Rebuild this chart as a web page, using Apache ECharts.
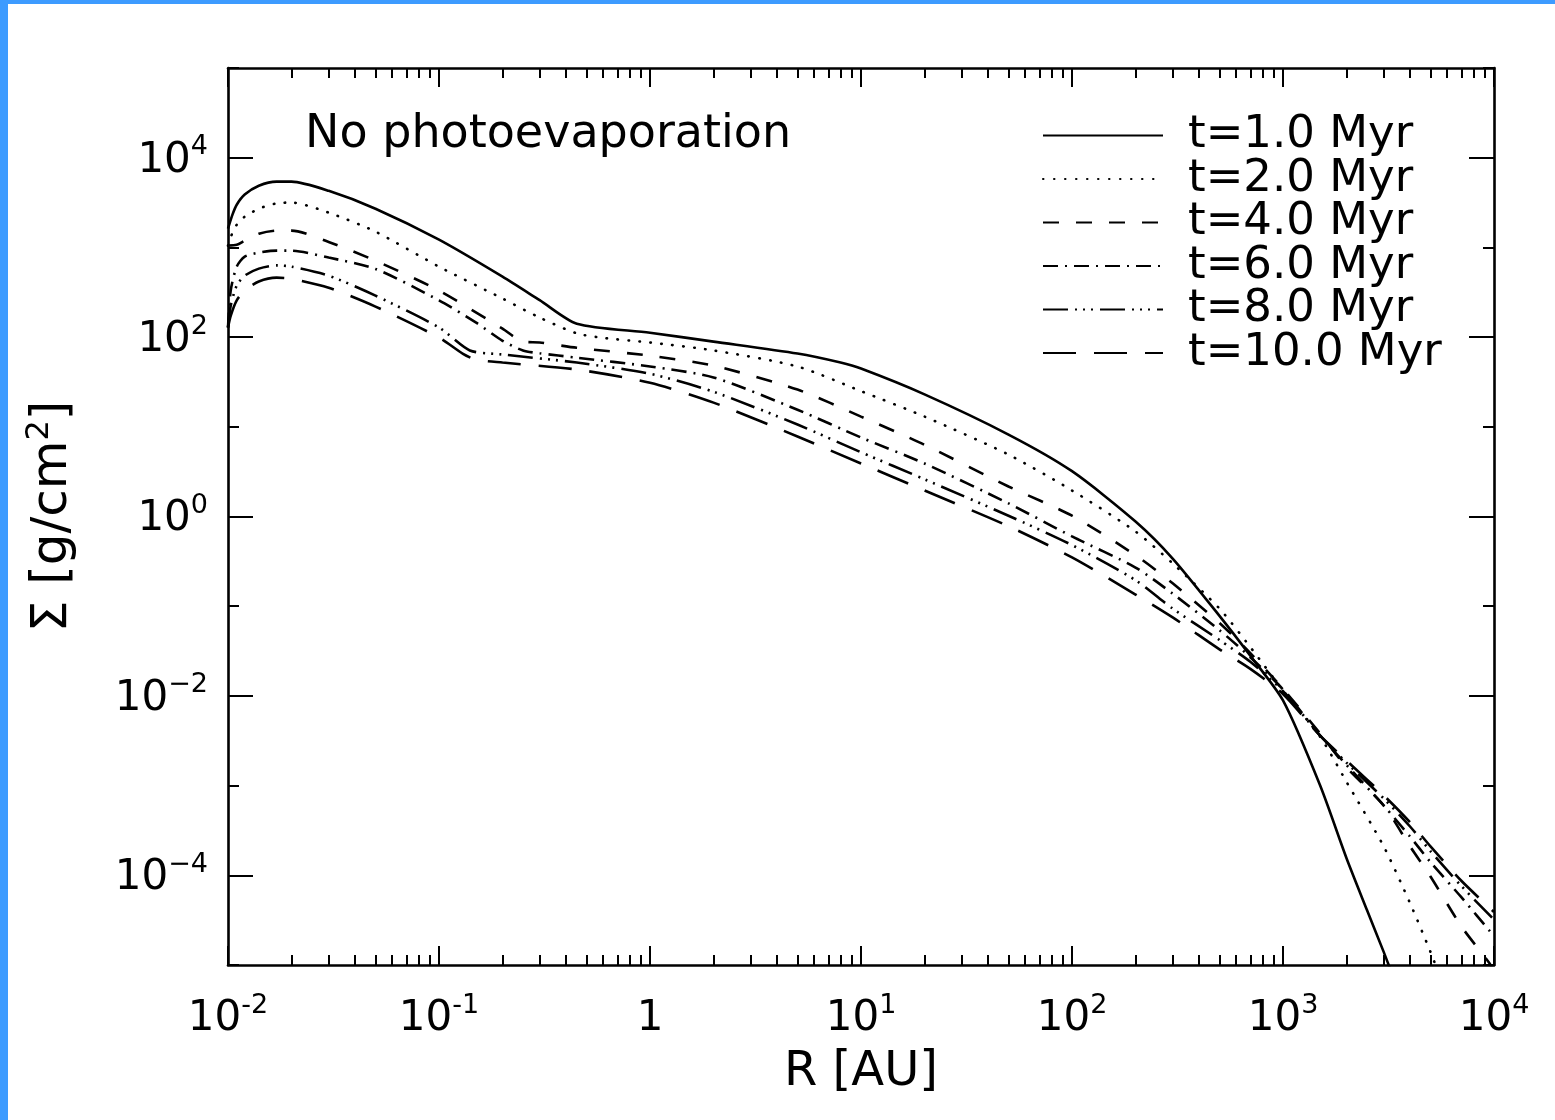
<!DOCTYPE html>
<html><head><meta charset="utf-8">
<script src="https://cdn.jsdelivr.net/npm/echarts@6/dist/echarts.min.js"></script>
<style>
html,body{margin:0;padding:0;background:#fff;}
#chart{position:absolute;left:0;top:0;width:1555px;height:1120px;}
#frame{position:absolute;left:0;top:0;width:1555px;height:1120px;box-sizing:border-box;border-left:8px solid #3d9bff;border-top:4px solid #3d9bff;pointer-events:none;}
</style></head><body>
<div id="chart"></div><div id="frame"></div>
<script>
// ---- data (R in AU, Sigma in g/cm^2) ----
const seriesNames = ['t=1.0 Myr', 't=2.0 Myr', 't=4.0 Myr', 't=6.0 Myr', 't=8.0 Myr', 't=10.0 Myr'];

const R_t1 = [0.01, 0.0105, 0.011, 0.012, 0.014, 0.017, 0.02, 0.03, 0.05, 0.1, 0.2, 0.3, 0.45, 1, 2, 5, 8, 10, 20, 50, 100, 200, 300, 500, 700, 1000, 1500, 2000, 2500, 3000, 3300];
const S_t1 = [1620, 2320, 2990, 3880, 4870, 5410, 5410, 4270, 2700, 1220, 472, 258, 141, 112, 89, 65.5, 52, 44.6, 23, 8.2, 3.2, 0.88, 0.34, 0.078, 0.028, 0.0089, 0.001, 1.55e-4, 4.1e-5, 1.4e-5, 7.8e-6];

const R_t2 = [0.01, 0.0105, 0.011, 0.012, 0.014, 0.017, 0.02, 0.03, 0.05, 0.1, 0.2, 0.3, 0.45, 0.6, 1, 2, 5, 10, 20, 50, 100, 200, 300, 500, 700, 1000, 1500, 2000, 3000, 4000, 5000, 5500];
const S_t2 = [1045, 1460, 1790, 2200, 2700, 3100, 3160, 2440, 1500, 610, 269, 165, 110, 98, 87, 71, 47, 25, 13, 4.9, 1.95, 0.68, 0.30, 0.094, 0.035, 0.0115, 0.0035, 0.0011, 2.1e-4, 4.9e-5, 1.4e-5, 7.8e-6];

const R_t4 = [0.01, 0.011, 0.012, 0.014, 0.017, 0.02, 0.03, 0.05, 0.1, 0.2, 0.25, 0.3, 0.45, 1, 2, 5, 10, 20, 50, 100, 200, 300, 500, 700, 1000, 1500, 2000, 3000, 4000, 5000, 7000, 9500, 10000];
const S_t4 = [1050, 1070, 1190, 1420, 1540, 1540, 1150, 710, 330, 124, 89, 87, 76, 62, 48, 26, 13, 6.3, 2.16, 1.02, 0.37, 0.18, 0.065, 0.030, 0.012, 0.0038, 0.0016, 6.0e-4, 2.1e-4, 9.7e-5, 2.7e-5, 1.05e-5, 8.3e-6];

const R_t6 = [0.01, 0.0103, 0.011, 0.012, 0.014, 0.017, 0.02, 0.03, 0.05, 0.1, 0.15, 0.2, 0.25, 0.3, 0.45, 1, 2, 5, 10, 20, 50, 100, 200, 300, 500, 700, 1000, 1500, 2000, 3000, 4000, 5000, 7000, 10000];
const S_t6 = [128, 330, 611, 790, 875, 920, 920, 770, 575, 257, 145, 91, 71, 66, 59, 47, 35.5, 15.5, 7.6, 3.9, 1.40, 0.60, 0.27, 0.138, 0.054, 0.027, 0.0118, 0.0036, 0.0017, 6.0e-4, 2.7e-4, 1.4e-4, 5.7e-5, 2.1e-5];

const R_t8 = [0.01, 0.0103, 0.011, 0.012, 0.014, 0.017, 0.02, 0.03, 0.05, 0.1, 0.14, 0.2, 0.45, 1, 2, 5, 10, 20, 50, 100, 200, 300, 500, 700, 1000, 1500, 2000, 3000, 4000, 5000, 7000, 10000];
const S_t8 = [128, 223, 375, 484, 580, 630, 610, 484, 290, 128, 71, 64, 52, 39, 24.6, 10.6, 5.2, 2.6, 1.02, 0.48, 0.195, 0.094, 0.042, 0.024, 0.0113, 0.0036, 0.0018, 7.2e-4, 3.5e-4, 1.86e-4, 7.6e-5, 3.2e-5];

const R_t10 = [0.01, 0.0103, 0.011, 0.012, 0.014, 0.017, 0.02, 0.03, 0.05, 0.1, 0.13, 0.15, 0.2, 0.45, 1, 2, 5, 10, 20, 50, 100, 200, 300, 500, 700, 1000, 1500, 2000, 3000, 4000, 5000, 7000, 10000];
const S_t10 = [128, 173, 257, 331, 417, 460, 447, 355, 219, 99, 65, 56, 52, 43.5, 31, 18.6, 7.8, 3.9, 1.95, 0.78, 0.35, 0.135, 0.075, 0.033, 0.020, 0.0105, 0.0036, 0.0019, 7.8e-4, 3.9e-4, 2.1e-4, 8.7e-5, 3.9e-5];

// ---- axes ticks ----
const xMajorTicks = [0.01, 0.1, 1, 10, 100, 1000, 10000];
const yMajorTicks = [1e-4, 1e-2, 1, 1e2, 1e4];
const yMinorTicks = [1e-5, 1e-3, 1e-1, 10, 1e3, 1e5];
const xMinorTicks = [];
for (let d = 0; d < xMajorTicks.length - 1; d++) {
  for (let m = 2; m <= 9; m++) xMinorTicks.push(+(xMajorTicks[d] * m).toPrecision(3));
}

const annotation = 'No photoevaporation';
const xTitle = 'R [AU]';

// ---- styling ----
const FONT = 'DejaVu Sans';
const INK = '#000';
const dashTypes = ['solid', [0.5, 10.5], [16, 17], [15, 7, 2, 7], [25, 7, 2, 6, 2, 6, 2, 7], [33, 18]];

const allR = [R_t1, R_t2, R_t4, R_t6, R_t8, R_t10];
const allS = [S_t1, S_t2, S_t4, S_t6, S_t8, S_t10];

function sup(e, minus) { return e < 0 ? minus + (-e) : String(e); }
const labelRich = {
  b: { fontFamily: FONT, fontSize: 42, color: INK, lineHeight: 48, verticalAlign: 'bottom' },
  s: { fontFamily: FONT, fontSize: 27, color: INK, lineHeight: 27, verticalAlign: 'top' }
};

function xAx(position, ticks, len, main) {
  return {
    type: 'log', logBase: 10, min: 0.01, max: 10000, position: position,
    axisLine: { show: main, onZero: false, lineStyle: { color: INK, width: 2.6 } },
    axisTick: { show: true, inside: true, length: len, customValues: ticks, lineStyle: { color: INK, width: 2 } },
    axisLabel: (main && position === 'bottom') ? {
      show: true, customValues: xMajorTicks, margin: 27,
      formatter: function (v) {
        const e = Math.round(Math.log10(v));
        if (e === 0) return '{b|1}';
        return '{b|10}{s|' + sup(e, '-') + '}';
      },
      rich: labelRich
    } : { show: false },
    splitLine: { show: false }, minorTick: { show: false }, minorSplitLine: { show: false },
    name: (main && position === 'bottom') ? xTitle : '',
    nameLocation: 'middle', nameGap: 84,
    nameTextStyle: { fontFamily: FONT, fontSize: 48, color: INK }
  };
}
function yAx(position, ticks, len, main) {
  return {
    type: 'log', logBase: 10, min: 1e-5, max: 1e5, position: position,
    axisLine: { show: main, onZero: false, lineStyle: { color: INK, width: 2.6 } },
    axisTick: { show: true, inside: true, length: len, customValues: ticks, lineStyle: { color: INK, width: 2 } },
    axisLabel: (main && position === 'left') ? {
      show: true, customValues: yMajorTicks, margin: 20,
      formatter: function (v) {
        const e = Math.round(Math.log10(v));
        return '{b|10}{s|' + sup(e, '\u2212') + '}';
      },
      rich: labelRich
    } : { show: false },
    splitLine: { show: false }, minorTick: { show: false }, minorSplitLine: { show: false },
    name: (main && position === 'left') ? '{b|\u03A3 [g/cm}{s|2}{b|]}' : '',
    nameLocation: 'middle', nameGap: 150, nameRotate: 90,
    nameTextStyle: {
      rich: {
        b: { fontFamily: FONT, fontSize: 50, color: INK, lineHeight: 54, verticalAlign: 'bottom' },
        s: { fontFamily: FONT, fontSize: 32, color: INK, lineHeight: 32, verticalAlign: 'top' }
      }
    }
  };
}

const chart = echarts.init(document.getElementById('chart'), null, { renderer: 'canvas' });
chart.setOption({
  animation: false,
  backgroundColor: '#fff',
  grid: { left: 228, top: 68, right: 61, bottom: 155, containLabel: false },
  xAxis: [
    xAx('bottom', xMajorTicks, 19, true),
    xAx('bottom', xMinorTicks, 10, false),
    xAx('top', xMajorTicks, 19, true),
    xAx('top', xMinorTicks, 10, false)
  ],
  yAxis: [
    yAx('left', yMajorTicks, 25, true),
    yAx('left', yMinorTicks, 11, false),
    yAx('right', yMajorTicks, 25, true),
    yAx('right', yMinorTicks, 11, false)
  ],
  legend: {
    orient: 'vertical', left: 1037, top: 108, padding: 5,
    itemWidth: 120, itemHeight: 14, itemGap: -1.5,
    itemStyle: { color: 'rgba(0,0,0,0)', borderColor: 'rgba(0,0,0,0)', borderWidth: 0, opacity: 0 },
    textStyle: { fontFamily: FONT, fontSize: 45, color: INK, lineHeight: 43, padding: [0, 0, 0, 20] },
    data: seriesNames
  },
  graphic: [{
    type: 'text', x: 305, y: 135,
    style: { text: annotation, fontFamily: FONT, fontSize: 46, fill: INK, verticalAlign: 'middle', align: 'left' }
  }],
  series: seriesNames.map(function (n, i) {
    return {
      type: 'line', name: n, xAxisIndex: 0, yAxisIndex: 0,
      data: allR[i].map(function (r, j) { return [r, allS[i][j]]; }),
      showSymbol: false, symbol: 'none', smooth: 0.25, clip: true,
      lineStyle: { color: INK, width: 2.6, type: dashTypes[i], cap: i === 1 ? 'round' : 'butt' },
      itemStyle: { color: INK },
      emphasis: { disabled: true }
    };
  })
});
</script></body></html>
